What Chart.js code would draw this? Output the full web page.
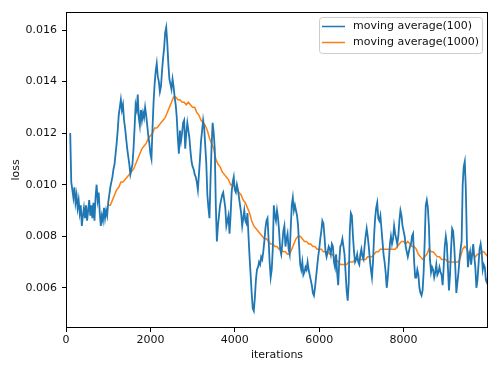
<!DOCTYPE html>
<html>
<head>
<meta charset="utf-8">
<script src="https://cdn.jsdelivr.net/npm/chart.js@4.4.1/dist/chart.umd.min.js"></script>
<style>
html,body{margin:0;padding:0;background:#fff;}
#wrap{width:500px;height:373px;position:relative;}
</style>
</head>
<body>
<div id="wrap"><canvas id="c" width="500" height="373"></canvas></div>
<script>
// ---- data ----
const seriesLabels = ['moving average(100)', 'moving average(1000)'];
const seriesColors = ['#1f77b4', '#ff7f0e'];

// moving average(100): one reading every 25 iterations, from iteration 100 to 9999
const iterStartA = 100;
const iterStepA = 25;
const iterEnd = 9999;
const lossA = [
0.0120,0.0101,0.0098,0.0095,0.0099,0.0093,0.0096,0.0091,0.0094,0.0089,0.0092,0.0084,0.0088,0.0091,0.0087,0.0092,0.0086,0.0090,0.0094,0.0088,0.0092,0.0087,0.0093,0.0086,0.0095,0.0100,0.0094,0.0097,0.0089,0.0084,0.0088,0.0086,0.0091,0.0087,0.0090,0.0088,0.0093,0.0096,0.0099,0.0101,
0.0103,0.0106,0.0108,0.0112,0.0116,0.0121,0.0127,0.0130,0.0133,0.0129,0.0131,0.0125,0.0122,0.0118,0.0114,0.0111,0.0108,0.0104,0.0106,0.0108,0.0114,0.0122,0.0131,0.0129,0.0135,0.0126,0.0123,0.0129,0.0125,0.0128,0.0126,0.0130,0.0127,0.0123,0.0119,0.0116,0.0112,0.0110,0.0122,0.0132,
0.0139,0.0144,0.0147,0.0142,0.0140,0.0136,0.0138,0.0144,0.0149,0.0153,0.0159,0.0161,0.0155,0.0147,0.0141,0.0139,0.0137,0.0141,0.0138,0.0134,0.0131,0.0126,0.0118,0.0112,0.0121,0.0117,0.0120,0.0124,0.0125,0.0114,0.0120,0.0124,0.0121,0.0118,0.0113,0.0109,0.0107,0.0106,0.0104,0.0103,
0.0101,0.0098,0.0104,0.0110,0.0117,0.0121,0.0125,0.0122,0.0115,0.0108,0.0096,0.0091,0.0087,0.0102,0.0115,0.0124,0.0120,0.0114,0.0092,0.0078,0.0084,0.0088,0.0092,0.0094,0.0096,0.0097,0.0094,0.0091,0.0084,0.0086,0.0088,0.0081,0.0088,0.0097,0.0101,0.0103,0.0098,0.0097,0.0100,0.0098,
0.0095,0.0092,0.0089,0.0084,0.0087,0.0090,0.0086,0.0085,0.0089,0.0080,0.0072,0.0065,0.0058,0.0052,0.0051,0.0056,0.0063,0.0067,0.0068,0.0070,0.0069,0.0072,0.0071,0.0074,0.0078,0.0083,0.0086,0.0087,0.0079,0.0070,0.0064,0.0067,0.0075,0.0092,0.0088,0.0086,0.0090,0.0087,0.0082,0.0075,
0.0073,0.0077,0.0082,0.0084,0.0076,0.0079,0.0081,0.0075,0.0073,0.0083,0.0092,0.0095,0.0090,0.0092,0.0090,0.0088,0.0084,0.0076,0.0069,0.0067,0.0070,0.0065,0.0066,0.0068,0.0067,0.0070,0.0067,0.0065,0.0063,0.0061,0.0058,0.0057,0.0060,0.0064,0.0068,0.0072,0.0075,0.0079,0.0082,0.0086,
0.0085,0.0080,0.0074,0.0072,0.0074,0.0076,0.0075,0.0073,0.0077,0.0076,0.0070,0.0068,0.0073,0.0066,0.0061,0.0070,0.0076,0.0077,0.0079,0.0076,0.0073,0.0066,0.0059,0.0055,0.0062,0.0082,0.0089,0.0088,0.0080,0.0074,0.0070,0.0071,0.0073,0.0070,0.0069,0.0073,0.0075,0.0072,0.0071,0.0076,
0.0080,0.0083,0.0080,0.0076,0.0071,0.0067,0.0064,0.0070,0.0080,0.0087,0.0091,0.0093,0.0087,0.0086,0.0088,0.0083,0.0078,0.0073,0.0070,0.0066,0.0060,0.0064,0.0070,0.0077,0.0080,0.0077,0.0079,0.0084,0.0081,0.0079,0.0077,0.0080,0.0086,0.0090,0.0088,0.0084,0.0082,0.0080,0.0076,0.0074,
0.0072,0.0074,0.0076,0.0077,0.0080,0.0081,0.0070,0.0064,0.0064,0.0067,0.0065,0.0060,0.0058,0.0057,0.0059,0.0066,0.0078,0.0092,0.0094,0.0091,0.0084,0.0071,0.0066,0.0068,0.0067,0.0064,0.0066,0.0069,0.0065,0.0066,0.0068,0.0066,0.0065,0.0061,0.0068,0.0076,0.0080,0.0077,0.0068,0.0059,
0.0065,0.0075,0.0083,0.0082,0.0076,0.0068,0.0058,0.0062,0.0066,0.0071,0.0075,0.0078,0.0100,0.0107,0.0109,0.0098,0.0078,0.0068,0.0072,0.0074,0.0069,0.0073,0.0077,0.0072,0.0068,0.0060,0.0063,0.0069,0.0075,0.0077,0.0074,0.0067,0.0069,0.0068,0.0063,0.0062,0.0064
];
const iterA = lossA.map((_, i) => Math.min(iterStartA + iterStepA * i, iterEnd));

// moving average(1000): one reading every 50 iterations, from iteration 1000 to 9999
const iterStartB = 1000;
const iterStepB = 50;
const lossB = [
0.0092,0.0092,0.0094,0.0096,0.0098,0.0099,0.0101,0.0101,0.0102,0.0103,0.0104,0.0105,0.0106,0.0108,0.0110,0.0112,0.0114,0.0115,0.0116,0.0118,
0.0119,0.0120,0.0122,0.0122,0.0123,0.0124,0.0125,0.0126,0.0128,0.0130,0.0132,0.0134,0.0134,0.0133,0.0133,0.0132,0.0132,0.0131,0.0132,0.0131,
0.0130,0.0130,0.0128,0.0127,0.0125,0.0124,0.0123,0.0121,0.0118,0.0116,0.0114,0.0110,0.0108,0.0107,0.0105,0.0104,0.0103,0.0102,0.0100,0.0100,
0.0099,0.0098,0.0097,0.0096,0.0094,0.0093,0.0091,0.0089,0.0086,0.0084,0.0083,0.0082,0.0081,0.0080,0.0079,0.0079,0.0078,0.0077,0.0077,0.0076,
0.0076,0.0075,0.0075,0.0074,0.0074,0.0073,0.0073,0.0075,0.0077,0.0079,0.0080,0.0080,0.0079,0.0078,0.0078,0.0077,0.0077,0.0076,0.0076,0.0075,
0.0075,0.0075,0.0074,0.0074,0.0074,0.0073,0.0073,0.0072,0.0071,0.0070,0.0069,0.0069,0.0069,0.0069,0.0070,0.0070,0.0070,0.0071,0.0071,0.0071,
0.0071,0.0071,0.0071,0.0072,0.0072,0.0072,0.0073,0.0074,0.0074,0.0075,0.0075,0.0075,0.0075,0.0075,0.0075,0.0075,0.0075,0.0076,0.0077,0.0078,
0.0078,0.0077,0.0078,0.0077,0.0076,0.0076,0.0075,0.0073,0.0072,0.0071,0.0072,0.0073,0.0075,0.0074,0.0074,0.0073,0.0072,0.0072,0.0071,0.0071,
0.0071,0.0070,0.0070,0.0070,0.0070,0.0070,0.0070,0.0072,0.0075,0.0076,0.0075,0.0073,0.0073,0.0073,0.0072,0.0073,0.0073,0.0074,0.0074,0.0073,0.0072
];
const iterB = lossB.map((_, i) => Math.min(iterStartB + iterStepB * i, iterEnd));

const xTicks = [0, 2000, 4000, 6000, 8000];
const yTicks = [0.006, 0.008, 0.010, 0.012, 0.014, 0.016];
const xLabel = 'iterations';
const yLabel = 'loss';

// ---- chart ----
const FONT = {family: 'DejaVu Sans', size: 11};
const TXT = '#111111';

const toPts = (xs, ys) => xs.map((x, i) => ({x: x, y: ys[i]}));

const framePlugin = {
  id: 'frame',
  afterDraw(chart) {
    const {ctx, chartArea: a} = chart;
    ctx.save();
    ctx.strokeStyle = '#000';
    ctx.lineWidth = 1;
    ctx.strokeRect(Math.round(a.left) + 0.5, Math.round(a.top) + 0.5,
      Math.round(a.right - a.left) - 1, Math.round(a.bottom - a.top) - 1);
    // legend box (upper right)
    ctx.font = '11px "DejaVu Sans"';
    const tw = Math.max(...seriesLabels.map(s => ctx.measureText(s).width));
    const w = 3 + 23 + 8 + tw + 3;
    const h = 36;
    const x0 = Math.round(a.right - 6 - w);
    const y0 = Math.round(a.top + 5);
    ctx.beginPath();
    if (ctx.roundRect) ctx.roundRect(x0 + 0.5, y0 + 0.5, w, h, 3); else ctx.rect(x0 + 0.5, y0 + 0.5, w, h);
    ctx.fillStyle = 'rgba(255,255,255,0.8)';
    ctx.fill();
    ctx.strokeStyle = '#cccccc';
    ctx.lineWidth = 1;
    ctx.stroke();
    seriesLabels.forEach((lab, i) => {
      const yy = y0 + 9.5 + i * 16;
      ctx.beginPath();
      ctx.strokeStyle = seriesColors[i];
      ctx.lineWidth = 1.5;
      ctx.moveTo(x0 + 3, yy);
      ctx.lineTo(x0 + 26, yy);
      ctx.stroke();
      ctx.fillStyle = TXT;
      ctx.textBaseline = 'middle';
      ctx.textAlign = 'left';
      ctx.fillText(lab, x0 + 34, yy);
    });
    ctx.restore();
  }
};

new Chart(document.getElementById('c'), {
  type: 'line',
  data: {
    datasets: [
      {label: seriesLabels[0], data: toPts(iterA, lossA), borderColor: seriesColors[0],
       borderWidth: 1.8, pointRadius: 0, tension: 0, fill: false},
      {label: seriesLabels[1], data: toPts(iterB, lossB), borderColor: seriesColors[1],
       borderWidth: 1.5, pointRadius: 0, tension: 0, fill: false}
    ]
  },
  options: {
    responsive: false,
    animation: false,
    devicePixelRatio: 1,
    layout: {padding: {top: 12, right: 12, left: 0, bottom: 0}},
    plugins: {legend: {display: false}, tooltip: {enabled: false}},
    scales: {
      x: {
        type: 'linear', min: 0, max: 10000,
        afterBuildTicks: s => { s.ticks = xTicks.map(v => ({value: v})); },
        afterFit: s => { s.height = 45; },
        ticks: {font: FONT, color: TXT, padding: 2, maxRotation: 0, autoSkip: false,
                callback: v => String(v)},
        grid: {display: true, drawOnChartArea: false, drawTicks: true, tickLength: 4, color: '#000'},
        border: {display: false},
        title: {display: true, text: xLabel, font: FONT, color: TXT, padding: {top: 0, bottom: 11}}
      },
      y: {
        type: 'linear', min: 0.00444, max: 0.0167,
        afterBuildTicks: s => { s.ticks = yTicks.map(v => ({value: v})); },
        afterFit: s => { s.width = 66; },
        ticks: {font: FONT, color: TXT, padding: 5, autoSkip: false,
                callback: v => Number(v).toFixed(3)},
        grid: {display: true, drawOnChartArea: false, drawTicks: true, tickLength: 4, color: '#000'},
        border: {display: false},
        title: {display: true, text: yLabel, font: FONT, color: TXT, padding: {top: 10, bottom: 0}}
      }
    }
  },
  plugins: [framePlugin]
});
</script>
</body>
</html>
